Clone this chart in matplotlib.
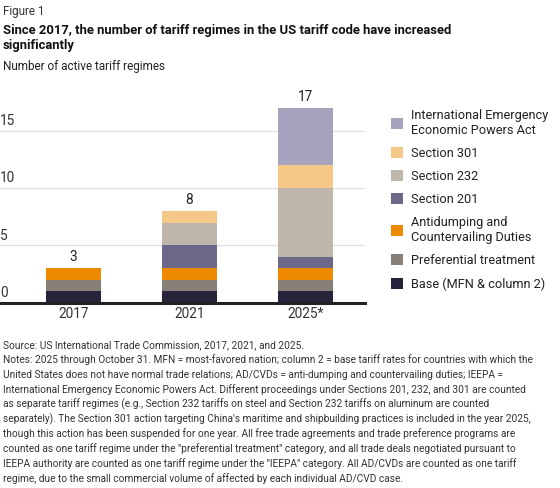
import matplotlib
matplotlib.use("Agg")
import matplotlib.pyplot as plt
from matplotlib.transforms import blended_transform_factory, offset_copy
import numpy as np

plt.rcParams['font.family'] = ['Roboto', 'DejaVu Sans']

years = ["2017", "2021", "2025*"]
series_names = [
    "Base (MFN & column 2)",
    "Preferential treatment",
    "Antidumping and\nCountervailing Duties",
    "Section 201",
    "Section 232",
    "Section 301",
    "International Emergency\nEconomic Powers Act",
]
base = [1, 1, 1]
preferential = [1, 1, 1]
adcvd = [1, 1, 1]
sec201 = [0, 2, 1]
sec232 = [0, 2, 6]
sec301 = [0, 1, 2]
ieepa = [0, 0, 5]
colors = ["#27233a", "#878079", "#ee8a00", "#6c6889", "#bfb6ab", "#f5c888", "#a7a3be"]
yticks = [0, 5, 10, 15]

values = [base, preferential, adcvd, sec201, sec232, sec301, ieepa]
W, H = 560, 488
fig = plt.figure(figsize=(W / 100, H / 100), dpi=100)

def fx(px):
    return px / W

def fy(py):
    return 1 - py / H

ax = fig.add_axes([0, fy(302.7), fx(365), fy(108) - fy(302.7)])
x = np.arange(len(years))
bottom = np.zeros(len(years))
handles = []
for name, vals, c in zip(series_names, values, colors):
    vals = np.array(vals, dtype=float)
    b = ax.bar(x, vals, width=0.474, bottom=bottom, color=c, label=name, zorder=3)
    handles.append(b)
    bottom += vals
totals = bottom

ax.set_xlim(-73.5 / 116, (365 - 73.5) / 116)
ax.set_ylim(0, 17)
for s in ["top", "right", "left"]:
    ax.spines[s].set_visible(False)
ax.spines["bottom"].set_color("#222222")
ax.spines["bottom"].set_linewidth(2.2)
ax.spines["bottom"].set_zorder(5)
ax.set_yticks(yticks)
ax.set_yticklabels([])
ax.tick_params(axis="y", length=0)
ax.yaxis.grid(True, color="#e2e2e2", linewidth=1.0, zorder=0)
ax.set_xticks(x)
ax.set_xticklabels(years, fontsize=9.8, color="#333333")
ax.tick_params(axis="x", length=0, pad=3)

tr = offset_copy(blended_transform_factory(ax.transAxes, ax.transData), fig=fig, x=0, y=2, units="points")
for t in yticks:
    ax.text(0.0, t, str(t), transform=tr, ha="left", va="bottom", fontsize=9.8, color="#333333")

for xi, tot in zip(x, totals):
    ax.annotate(f"{int(tot)}", (xi, tot), xytext=(0, 3), textcoords="offset points",
                ha="center", va="bottom", fontsize=9.8, color="#222222")

leg = fig.legend(handles[::-1], series_names[::-1], loc="upper left",
                 bbox_to_anchor=(fx(391), fy(109)), frameon=False, fontsize=9.2,
                 handlelength=0.93, handleheight=0.93, handletextpad=0.6,
                 labelspacing=0.8, borderpad=0, borderaxespad=0)
for t in leg.get_texts():
    t.set_color("#222222")
    t.set_linespacing(1.15)

fig.text(fx(3), fy(15), "Figure 1", fontsize=8.4, color="#333333", va="baseline")
fig.text(fx(3), fy(34), "Since 2017, the number of tariff regimes in the US tariff code have increased",
         fontsize=9.4, fontweight="bold", color="#111111", va="baseline")
fig.text(fx(3), fy(49), "significantly", fontsize=9.4, fontweight="bold", color="#111111", va="baseline")
fig.text(fx(3), fy(70), "Number of active tariff regimes", fontsize=8.5, color="#222222", va="baseline")

notes = [
    "Source: US International Trade Commission, 2017, 2021, and 2025.",
    "Notes: 2025 through October 31. MFN = most-favored nation; column 2 = base tariff rates for countries with which the",
    "United States does not have normal trade relations; AD/CVDs = anti-dumping and countervailing duties; IEEPA =",
    "International Emergency Economic Powers Act. Different proceedings under Sections 201, 232, and 301 are counted",
    "as separate tariff regimes (e.g., Section 232 tariffs on steel and Section 232 tariffs on aluminum are counted",
    "separately). The Section 301 action targeting China's maritime and shipbuilding practices is included in the year 2025,",
    "though this action has been suspended for one year. All free trade agreements and trade preference programs are",
    "counted as one tariff regime under the \"preferential treatment\" category, and all trade deals negotiated pursuant to",
    "IEEPA authority are counted as one tariff regime under the \"IEEPA\" category. All AD/CVDs are counted as one tariff",
    "regime, due to the small commercial volume of affected by each individual AD/CVD case.",
]
for i, line in enumerate(notes):
    fig.text(fx(3), fy(348 + i * 14.9), line, fontsize=7.25, color="#333333", va="baseline")

fig.savefig("out.png", dpi=100)
